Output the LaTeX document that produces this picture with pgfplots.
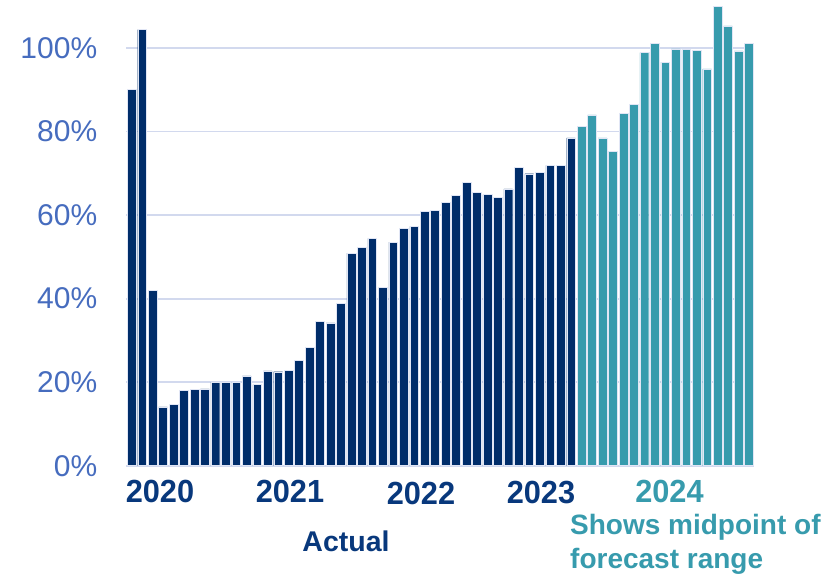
\documentclass[border=0pt]{standalone}
\usepackage{fontspec}
\setmainfont{Liberation Sans}
\newfontfamily\yearfont[FakeStretch=0.96]{Liberation Sans}
\usepackage{pgfplots}
\pgfplotsset{compat=1.18}
\definecolor{navy}{RGB}{0,45,106}
\definecolor{yearnavy}{RGB}{8,56,124}
\definecolor{teal2}{RGB}{55,155,173}
\definecolor{tickblue}{RGB}{70,108,190}
\definecolor{gridc}{RGB}{210,217,238}
\definecolor{baredge}{RGB}{225,230,245}
\begin{document}
\begin{tikzpicture}[x=1bp,y=1bp]
\begin{axis}[
  at={(126.4bp,108.3bp)}, anchor=south west,
  scale only axis, width=627.8bp, height=465.7bp,
  xmin=-0.5, xmax=59.5, ymin=0, ymax=111.5,
  axis line style={draw=none},
  major tick length=0pt,
  xtick=\empty,
  ytick={0,20,40,60,80,100},
  yticklabels={0\%,20\%,40\%,60\%,80\%,100\%},
  yticklabel style={font=\fontsize{30bp}{36bp}\selectfont, text=tickblue, anchor=east, inner sep=0pt, xshift=-29bp},
  ymajorgrids, grid style={gridc, line width=1.8bp},
  clip=false,
]
\addplot[ybar, bar shift=0pt, bar width=0.84, fill=navy, draw=baredge, line width=0.4bp] coordinates {
(0,90.1) (1,104.4) (2,42.0) (3,14.1) (4,14.7) (5,18.0) (6,18.2) (7,18.4) (8,20.0) (9,20.0)
(10,19.9) (11,21.5) (12,19.4) (13,22.7) (14,22.5) (15,22.9) (16,25.2) (17,28.3) (18,34.6) (19,34.2)
(20,38.8) (21,50.9) (22,52.3) (23,54.4) (24,42.7) (25,53.5) (26,56.8) (27,57.3) (28,60.9) (29,61.2)
(30,63.1) (31,64.7) (32,67.8) (33,65.5) (34,64.9) (35,64.3) (36,66.3) (37,71.4) (38,69.9) (39,70.2)
(40,71.9) (41,71.9) (42,78.5)
};
\addplot[ybar, bar shift=0pt, bar width=0.84, fill=teal2, draw=baredge, line width=0.4bp] coordinates {
(43,81.3) (44,84.0) (45,78.5) (46,75.3) (47,84.4) (48,86.5) (49,98.9) (50,101.1) (51,96.6)
(52,99.8) (53,99.6) (54,99.4) (55,95.0) (56,110.0) (57,105.3) (58,99.3) (59,101.1)
};
\end{axis}
\begin{scope}[every node/.style={inner sep=0pt, anchor=base}]
\node[text=yearnavy, font=\yearfont\fontsize{32bp}{36bp}\selectfont\bfseries] at (160,71.7) {2020};
\node[text=yearnavy, font=\yearfont\fontsize{32bp}{36bp}\selectfont\bfseries] at (290,71.7) {2021};
\node[text=yearnavy, font=\yearfont\fontsize{32bp}{36bp}\selectfont\bfseries] at (421,69.5) {2022};
\node[text=yearnavy, font=\yearfont\fontsize{32bp}{36bp}\selectfont\bfseries] at (541,70.7) {2023};
\node[text=teal2, font=\yearfont\fontsize{32bp}{36bp}\selectfont\bfseries] at (669.5,71) {2024};
\node[text=yearnavy, font=\fontsize{28.5bp}{34bp}\selectfont\bfseries] at (346,22.3) {Actual};
\node[text=teal2, font=\fontsize{28bp}{34bp}\selectfont\bfseries, anchor=base west] at (570,39) {Shows midpoint of};
\node[text=teal2, font=\fontsize{28bp}{34bp}\selectfont\bfseries, anchor=base west] at (570,5.5) {forecast range};
\end{scope}
\pgfresetboundingbox
\path[use as bounding box] (0,0) rectangle (836,574);
\end{tikzpicture}
\end{document}
